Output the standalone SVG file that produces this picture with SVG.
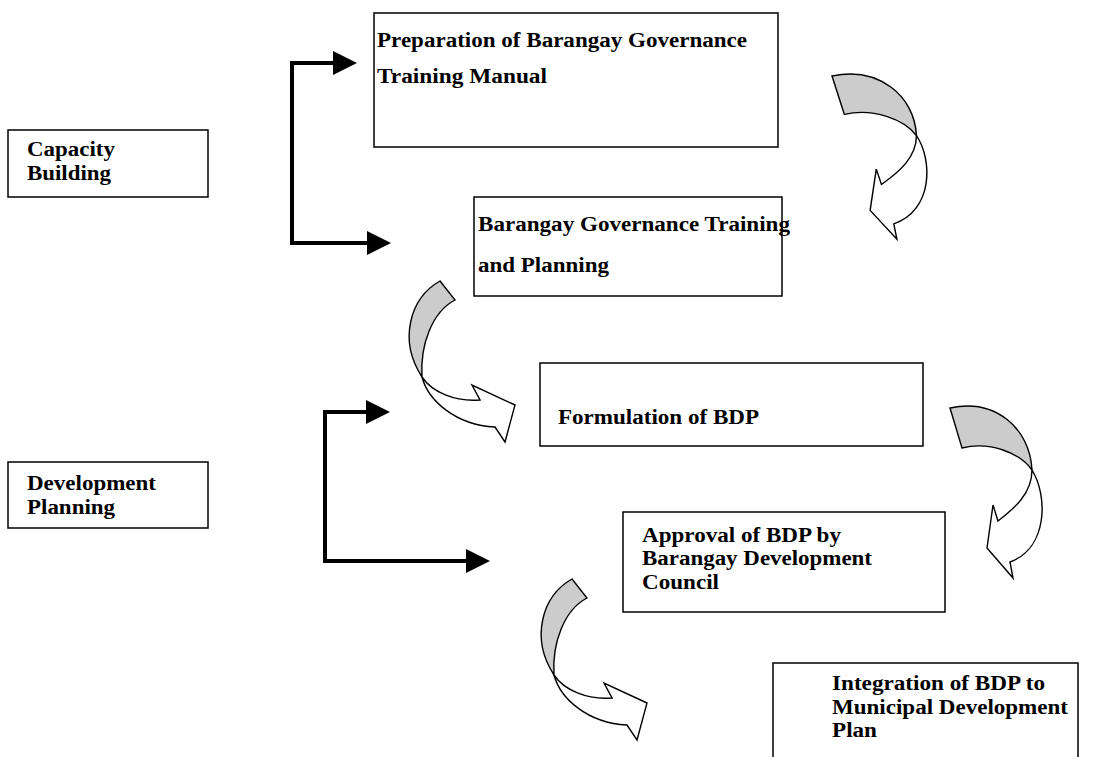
<svg xmlns="http://www.w3.org/2000/svg" xmlns:xlink="http://www.w3.org/1999/xlink" width="1095" height="757" viewBox="0 0 1095 757">
  <style>
    .box { fill: #ffffff; stroke: #000000; stroke-width: 1.5; }
    .label { font-family: "Liberation Serif", "Times New Roman", serif; font-weight: bold; font-size: 20px; fill: #000000; }
    .elbow { fill: none; stroke: #000000; stroke-width: 4; stroke-linejoin: miter; }
    .back { fill: #cccccc; stroke: #000000; stroke-width: 1.4; stroke-linejoin: miter; }
    .front { fill: #ffffff; stroke: #000000; stroke-width: 1.4; stroke-linejoin: miter; }
  </style>
  <defs>
    <marker id="head" markerUnits="userSpaceOnUse" markerWidth="24" markerHeight="24" viewBox="0 0 24 24" refX="0" refY="12" orient="auto-start-reverse">
      <path d="M0,0 L24,12 L0,24 Z" fill="#000000"/>
    </marker>
    <!-- curved arrow sweeping right then down, head pointing back to the left -->
    <g id="curveDown">
      <path class="back" d="M0,0 C45,-10 80,20 82,62 C70,45 40,33 12,40 Z"/>
      <path class="front" d="M82,62 C98,88 98,140 60,154 L63,170 L37,140 L43,97 L48,113 C65,100 82,85 82,62 Z"/>
    </g>
    <!-- curved arrow sweeping left then down, head pointing right -->
    <g id="curveRight">
      <path class="back" d="M440,281 L455,300 C432,312 420,345 422,377 C398,340 410,298 440,281 Z"/>
      <path class="front" d="M422,377 C428,400 455,425 495,427 L505,442 L515,405 L472,385 L480,400 C455,402 432,392 422,377 Z"/>
    </g>
  </defs>

  <g id="connectors">
    <path class="elbow" d="M333,63 H292 V243 H367" marker-start="url(#head)" marker-end="url(#head)"/>
    <path class="elbow" d="M366,412 H325 V561 H466" marker-start="url(#head)" marker-end="url(#head)"/>
    <use xlink:href="#curveDown" transform="translate(832,76) scale(1.03,0.96)"/>
    <use xlink:href="#curveRight"/>
    <use xlink:href="#curveDown" transform="translate(950,408)"/>
    <use xlink:href="#curveRight" transform="translate(132,298)"/>
  </g>

  <g id="capacity-building">
    <rect class="box" x="8" y="130" width="200" height="67"/>
    <text class="label" x="27" y="156" textLength="88" lengthAdjust="spacingAndGlyphs">Capacity</text>
    <text class="label" x="27" y="180" textLength="84" lengthAdjust="spacingAndGlyphs">Building</text>
  </g>

  <g id="development-planning">
    <rect class="box" x="8" y="462" width="200" height="66"/>
    <text class="label" x="27" y="490" textLength="129" lengthAdjust="spacingAndGlyphs">Development</text>
    <text class="label" x="27" y="514" textLength="88" lengthAdjust="spacingAndGlyphs">Planning</text>
  </g>

  <g id="training-manual">
    <rect class="box" x="374" y="13" width="404" height="134"/>
    <text class="label" x="377" y="47" textLength="370" lengthAdjust="spacingAndGlyphs">Preparation of Barangay Governance</text>
    <text class="label" x="377" y="83" textLength="170" lengthAdjust="spacingAndGlyphs">Training Manual</text>
  </g>

  <g id="training-planning">
    <rect class="box" x="474" y="197" width="308" height="99"/>
    <text class="label" x="478" y="231" textLength="312" lengthAdjust="spacingAndGlyphs">Barangay Governance Training</text>
    <text class="label" x="478" y="272" textLength="131" lengthAdjust="spacingAndGlyphs">and Planning</text>
  </g>

  <g id="formulation">
    <rect class="box" x="540" y="363" width="383" height="83"/>
    <text class="label" x="558" y="424" textLength="201" lengthAdjust="spacingAndGlyphs">Formulation of BDP</text>
  </g>

  <g id="approval">
    <rect class="box" x="623" y="512" width="322" height="100"/>
    <text class="label" x="642" y="542" textLength="199" lengthAdjust="spacingAndGlyphs">Approval of BDP by</text>
    <text class="label" x="642" y="565" textLength="230" lengthAdjust="spacingAndGlyphs">Barangay Development</text>
    <text class="label" x="642" y="589" textLength="77" lengthAdjust="spacingAndGlyphs">Council</text>
  </g>

  <g id="integration">
    <rect class="box" x="773" y="663" width="305" height="120"/>
    <text class="label" x="832" y="690" textLength="213" lengthAdjust="spacingAndGlyphs">Integration of BDP to</text>
    <text class="label" x="832" y="714" textLength="236" lengthAdjust="spacingAndGlyphs">Municipal Development</text>
    <text class="label" x="832" y="737" textLength="45" lengthAdjust="spacingAndGlyphs">Plan</text>
  </g>
</svg>
